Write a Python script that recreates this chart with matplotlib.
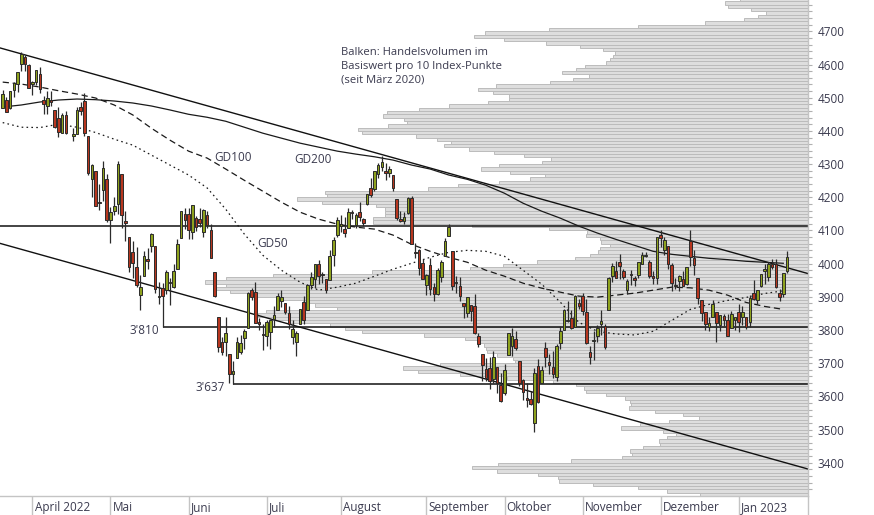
import numpy as np
import pandas as pd
import matplotlib
matplotlib.use("Agg")
import matplotlib.pyplot as plt

plt.rcParams["font.family"] = ["Open Sans", "DejaVu Sans"]

nan = np.nan

# trading calendar: weekdays minus US market holidays; Good Friday keeps an empty slot
closed = ["2022-05-30", "2022-06-20", "2022-07-04", "2022-09-05",
          "2022-11-24", "2022-12-26", "2023-01-02", "2023-01-16"]
days = pd.bdate_range("2022-03-22", "2023-01-23").drop(pd.to_datetime(closed))

opens = [
    4469, 4493, 4470, 4523, 4541, 4603, 4624, 4599,
    4540, 4548, 4572, 4494, 4475, 4494, 4463, 4438, 4394, 4449, nan, 4386, 4391, 4472, 4489, 4386, 4255, 4278, 4187, 4223, 4254,
    4131, 4160, 4181, 4270, 4128, 4081, 4035, 3990, 3904, 3964, 4013, 4052, 4052, 3899, 3928, 3919, 3943, 3930, 3985, 4077, 4151,
    4150, 4095, 4138, 4135, 4096, 4147, 4102, 3974, 3838, 3764, 3764, 3728, 3666, 3715, 3734, 3775, 3805, 3921, 3913, 3825, 3786,
    3781, 3793, 3832, 3859, 3888, 3881, 3852, 3780, 3764, 3818, 3884, 3861, 3935, 3955, 4000, 3966, 3953, 3951, 4026, 4087,
    4112, 4104, 4108, 4155, 4116, 4156, 4133, 4181, 4227, 4225, 4269, 4290, 4280, 4273, 4266, 4195, 4133, 4127, 4153, 4199, 4035, 4041, 4001,
    3937, 3995, 3931, 3909, 3960, 4023, 4084, 4037, 3941, 3932, 3881, 3850, 3875, 3871, 3782, 3727, 3683, 3686, 3652, 3687, 3633,
    3610, 3726, 3753, 3772, 3707, 3648, 3596, 3591, 3520, 3690, 3639, 3746, 3703, 3689, 3657, 3762, 3799, 3826, 3835, 3808, 3882,
    3902, 3853, 3733, 3767, 3781, 3817, 3811, 3860, 3964, 3978, 4006, 3977, 3919, 3966, 3956, 3966, 4000, 4023, 4005, 3964, 3957,
    4087, 4040, 4052, 3997, 3933, 3948, 3954, 3939, 4069, 4016, 3958, 3891, 3854, 3810, 3839, 3853, 3815, 3843, 3830, 3805, 3829,
    3853, 3840, 3840, 3823, 3911, 3889, 3932, 3978, 3961, 3999, 4000, 3912, 3909, 3978,
]
highs = [
    4522, 4501, 4521, 4546, 4576, 4637, 4628, 4603,
    4549, 4584, 4593, 4504, 4521, 4520, 4464, 4471, 4454, 4460, nan, 4410, 4471, 4488, 4513, 4386, 4299, 4278, 4241, 4308, 4270,
    4170, 4200, 4308, 4270, 4158, 4081, 4069, 4049, 3965, 4039, 4046, 4091, 4052, 3946, 3943, 3982, 3956, 3999, 4075, 4158, 4168,
    4167, 4178, 4143, 4169, 4165, 4160, 4119, 3974, 3838, 3778, 3838, 3728, 3708, 3780, 3786, 3803, 3914, 3928, 3946, 3837, 3819,
    3830, 3832, 3871, 3911, 3919, 3881, 3873, 3829, 3796, 3864, 3902, 3940, 3974, 3999, 4012, 3975, 3953, 4040, 4079, 4140,
    4145, 4140, 4168, 4161, 4152, 4187, 4137, 4211, 4258, 4280, 4302, 4325, 4302, 4293, 4266, 4195, 4160, 4157, 4201, 4203, 4063, 4045, 4015,
    3970, 4018, 3943, 3988, 4011, 4077, 4119, 4037, 3962, 3959, 3881, 3900, 3876, 3907, 3791, 3727, 3716, 3718, 3737, 3687, 3671,
    3698, 3792, 3807, 3798, 3707, 3652, 3641, 3616, 3685, 3712, 3690, 3763, 3729, 3736, 3758, 3811, 3863, 3886, 3860, 3905, 3894,
    3912, 3894, 3751, 3796, 3814, 3859, 3818, 3959, 4001, 4009, 4029, 3983, 3954, 3980, 3962, 4006, 4034, 4034, 4012, 3977, 4080,
    4101, 4080, 4052, 4002, 3958, 3967, 3977, 3991, 4101, 4040, 3958, 3891, 3855, 3838, 3890, 3853, 3846, 3847, 3848, 3858, 3840,
    3878, 3873, 3840, 3906, 3951, 3920, 3970, 3998, 4004, 4015, 4014, 3923, 3973, 4039,
]
lows = [
    4469, 4456, 4465, 4501, 4518, 4581, 4581, 4530,
    4508, 4539, 4514, 4450, 4450, 4475, 4408, 4381, 4393, 4391, nan, 4370, 4391, 4449, 4384, 4268, 4201, 4175, 4163, 4189, 4124,
    4063, 4147, 4149, 4106, 4068, 3975, 3958, 3929, 3859, 3964, 3984, 4034, 3912, 3877, 3810, 3909, 3875, 3925, 3985, 4077, 4105,
    4074, 4074, 4099, 4109, 4080, 4107, 4017, 3900, 3734, 3725, 3722, 3640, 3637, 3715, 3729, 3744, 3805, 3890, 3820, 3799, 3739,
    3752, 3742, 3809, 3859, 3869, 3847, 3802, 3759, 3722, 3817, 3819, 3861, 3922, 3928, 3938, 3943, 3911, 3951, 3993, 4079,
    4096, 4080, 4108, 4135, 4107, 4129, 4112, 4177, 4201, 4220, 4257, 4278, 4253, 4262, 4219, 4130, 4124, 4120, 4148, 4058, 4017, 3965, 3955,
    3904, 3906, 3887, 3906, 3945, 4023, 4084, 3921, 3912, 3888, 3837, 3839, 3828, 3789, 3749, 3647, 3645, 3623, 3641, 3610, 3584,
    3605, 3726, 3723, 3739, 3632, 3588, 3568, 3575, 3492, 3580, 3639, 3687, 3667, 3656, 3647, 3742, 3799, 3824, 3804, 3808, 3863,
    3844, 3759, 3698, 3709, 3765, 3786, 3744, 3860, 3945, 3956, 3953, 3954, 3907, 3936, 3933, 3957, 3999, 4021, 3956, 3938, 3939,
    4051, 4027, 3984, 3918, 3923, 3917, 3933, 3935, 3993, 3966, 3879, 3828, 3800, 3796, 3839, 3764, 3797, 3813, 3781, 3805, 3800,
    3794, 3816, 3802, 3810, 3890, 3877, 3929, 3938, 3948, 3985, 3927, 3886, 3898, 3972,
]
closes = [
    4512, 4456, 4520, 4543, 4576, 4632, 4602, 4530,
    4546, 4583, 4525, 4481, 4500, 4488, 4413, 4397, 4447, 4393, nan, 4392, 4462, 4459, 4394, 4272, 4296, 4175, 4184, 4288, 4132,
    4155, 4175, 4300, 4147, 4123, 3991, 4001, 3935, 3930, 4024, 4008, 4089, 3924, 3901, 3901, 3974, 3941, 3979, 4058, 4158, 4132,
    4101, 4177, 4109, 4121, 4161, 4116, 4018, 3901, 3750, 3735, 3790, 3667, 3675, 3765, 3760, 3796, 3912, 3900, 3822, 3819, 3785,
    3825, 3831, 3845, 3903, 3899, 3854, 3819, 3802, 3790, 3863, 3831, 3937, 3960, 3999, 3962, 3967, 3921, 4024, 4072, 4130,
    4119, 4091, 4155, 4152, 4145, 4140, 4122, 4210, 4207, 4280, 4297, 4305, 4274, 4284, 4228, 4138, 4129, 4141, 4199, 4058, 4031, 3986, 3955,
    3967, 3924, 3908, 3980, 4006, 4067, 4110, 3933, 3946, 3901, 3873, 3900, 3856, 3790, 3758, 3693, 3655, 3647, 3719, 3640, 3586,
    3678, 3791, 3783, 3745, 3640, 3612, 3589, 3577, 3670, 3583, 3678, 3720, 3695, 3666, 3753, 3797, 3859, 3831, 3807, 3901, 3872,
    3856, 3760, 3720, 3771, 3807, 3828, 3749, 3956, 3993, 3957, 3992, 3959, 3947, 3965, 3950, 4004, 4027, 4026, 3964, 3958, 4080,
    4077, 4072, 3999, 3941, 3934, 3964, 3934, 3991, 4020, 3995, 3896, 3852, 3818, 3822, 3878, 3822, 3845, 3829, 3783, 3849, 3840,
    3824, 3853, 3808, 3895, 3892, 3919, 3970, 3983, 3999, 3991, 3929, 3899, 3973, 4020,
]

# moving averages, read every 5th slot
ma_step = 5
gd50 = [4425, 4411, 4410, 4420, 4411, 4395, 4375, 4357, 4327, 4297, 4267, 4228, 4164, 4089, 4025,
        3980, 3944, 3920, 3929, 3941, 3962, 3983, 4001, 4019, 4034, 4040, 4037, 4022, 3980, 3938,
        3884, 3823, 3796, 3788, 3785, 3796, 3829, 3862, 3877, 3889, 3898, 3910, 3918]
gd100 = [4547, 4541, 4532, 4521, 4511, 4499, 4478, 4448, 4408, 4372, 4339, 4318, 4285, 4251, 4218,
         4185, 4155, 4134, 4119, 4110, 4104, 4086, 4058, 4037, 4019, 4004, 3980, 3962, 3941, 3926,
         3914, 3902, 3899, 3905, 3911, 3920, 3929, 3927, 3920, 3905, 3883, 3871, 3862]
gd200 = [4472, 4478, 4487, 4493, 4496, 4494, 4490, 4484, 4475, 4463, 4450, 4441, 4429, 4411, 4393,
         4378, 4363, 4351, 4339, 4330, 4322, 4312, 4297, 4285, 4267, 4254, 4236, 4212, 4182, 4158,
         4137, 4113, 4092, 4073, 4055, 4037, 4028, 4022, 4016, 4012, 4007, 4004, 4001]

# volume profile: bins of 10 index points, lower edge 3300 .. 4790
vol_bin_start = 3300
vol_bin_size = 10
volume = [
    108, 141, 170, 215, 249, 250, 270, 311, 336, 310,
    237, 186, 176, 178, 165, 148, 149, 141, 132, 145,
    187, 168, 139, 109, 125, 153, 179, 177, 178, 183,
    202, 222, 224, 232, 255, 301, 348, 390, 405, 368,
    293, 295, 311, 321, 322, 324, 331, 343, 384, 446,
    463, 478, 518, 535, 550, 542, 471, 493, 505, 528,
    553, 578, 595, 582, 603, 582, 535, 436, 338, 305,
    271, 233, 218, 210, 208, 198, 207, 208, 222, 221,
    259, 336, 435, 435, 423, 423, 423, 432, 486, 511,
    481, 483, 380, 350, 309, 278, 263, 298, 327, 309,
    266, 257, 284, 314, 339, 364, 357, 371, 392, 446,
    450, 420, 401, 404, 425, 421, 389, 359, 320, 299,
    299, 315, 330, 312, 258, 235, 219, 246, 232, 223,
    202, 198, 195, 193, 205, 228, 262, 304, 334, 323,
    259, 170, 103, 64, 50, 42, 57, 80, 83, 68,
]
vol_full = 808  # volume that spans the whole plot width

# trend channel (value at left and right plot edge) and levels
upper_trend = [4650, 3970]
lower_trend = [4061, 3381]
resistance = 4113
support_levels = [3810, 3637]
support_dates = ["2022-05-20", "2022-06-17"]

months = ["April 2022", "Mai", "Juni", "Juli", "August", "September",
          "Oktober", "November", "Dezember", "Jan 2023"]
month_starts = ["2022-04-01", "2022-05-02", "2022-06-01", "2022-07-01", "2022-08-01",
                "2022-09-01", "2022-10-03", "2022-11-01", "2022-12-01", "2023-01-03"]

TXT = "#3b3b4f"
UP, DOWN, EDGE = "#8ea21e", "#b7361f", "#2b2b2b"

o, h, l, c = (np.array(a, dtype=float) for a in (opens, highs, lows, closes))
slot = np.arange(len(days))
pos = {d.strftime("%Y-%m-%d"): i for i, d in enumerate(days)}

x_lo, x_hi = -0.726, 216.65
y_lo, y_hi = 3301.2, 4794.4

fig = plt.figure(figsize=(8.74, 5.15), dpi=100)
rect = [0, 19.5 / 515, 808 / 874, 495.5 / 515]

axv = fig.add_axes(rect)
bins = vol_bin_start + vol_bin_size * np.arange(len(volume))
axv.barh(bins + vol_bin_size / 2, volume, height=vol_bin_size,
         color="#dedede", edgecolor="#bcbcbc", linewidth=0.7)
axv.set_xlim(vol_full, 0)
axv.set_ylim(y_lo, y_hi)
axv.axis("off")

ax = fig.add_axes(rect)
ax.patch.set_visible(False)
ax.set_xlim(x_lo, x_hi)
ax.set_ylim(y_lo, y_hi)

# channel and horizontal levels
ax.plot([x_lo, x_hi], upper_trend, color="#111111", lw=1.0, zorder=2)
ax.plot([x_lo, x_hi], lower_trend, color="#111111", lw=1.0, zorder=2)
ax.axhline(resistance, color="#111111", lw=1.1, zorder=2)
for lvl, d in zip(support_levels, support_dates):
    ax.hlines(lvl, pos[d], x_hi, color="#111111", lw=1.1, zorder=2)

# moving averages
ma_x = np.arange(len(gd50)) * ma_step
ax.plot(ma_x, gd200, color="#1a1a1a", lw=0.9, zorder=3)
ax.plot(ma_x, gd100, color="#1a1a1a", lw=0.9, ls=(0, (5, 3)), zorder=3)
ax.plot(ma_x, gd50, color="#1a1a1a", lw=0.9, ls=(0, (1.3, 2.6)), zorder=3)

# candles
ok = ~np.isnan(c)
up = c >= o
ax.vlines(slot[ok], l[ok], h[ok], color=EDGE, lw=0.9, zorder=4)
body_lo = np.minimum(o, c)
body_h = np.maximum(np.abs(c - o), 2.5)
for sel, col in ((ok & up, UP), (ok & ~up, DOWN)):
    ax.bar(slot[sel], body_h[sel], bottom=body_lo[sel], width=0.7,
           color=col, edgecolor=EDGE, linewidth=0.7, zorder=5)

# labels on chart
ax.text(62.0, 4321, "GD100", color=TXT, fontsize=8.5, ha="center", va="center")
ax.text(83.5, 4315, "GD200", color=TXT, fontsize=8.5, ha="center", va="center")
ax.text(72.7, 4061, "GD50", color=TXT, fontsize=8.5, ha="center", va="center")
ax.text(pos[support_dates[0]] - 1.0, 3799, "3'810", color=TXT, fontsize=8.5,
        ha="right", va="center")
ax.text(pos[support_dates[1]] - 2.3, 3627, "3'637", color=TXT, fontsize=8.5,
        ha="right", va="center")
ax.text(91.0, 4652, "Balken: Handelsvolumen im\nBasiswert pro 10 Index-Punkte\n(seit März 2020)",
        color=TXT, fontsize=8.1, ha="left", va="top", linespacing=1.3)

# axes styling
for side in ("top", "left"):
    ax.spines[side].set_visible(False)
for side in ("right", "bottom"):
    ax.spines[side].set_color("#c4c4c4")
    ax.spines[side].set_linewidth(1.0)

ax.yaxis.tick_right()
ax.set_yticks(np.arange(3400, 4701, 100))
ax.set_yticks(np.arange(3320, 4781, 20), minor=True)
ax.tick_params(axis="y", which="both", length=3.2, width=0.8, color="#b0b0b0",
               labelsize=8.5, labelcolor=TXT, pad=4)

sep = [pos[d] for d in month_starts] + [x_hi]
ax.set_xticks(sep)
ax.set_xticklabels([])
ax.tick_params(axis="x", length=14.4, width=1.0, color="#c4c4c4")
for name, d in zip(months, month_starts):
    ax.annotate(name, xy=(pos[d], 0), xycoords=("data", "axes fraction"),
                xytext=(1.6, -8.6), textcoords="offset points",
                ha="left", va="center", fontsize=8.5, color=TXT)

fig.savefig("out.png", dpi=100)
